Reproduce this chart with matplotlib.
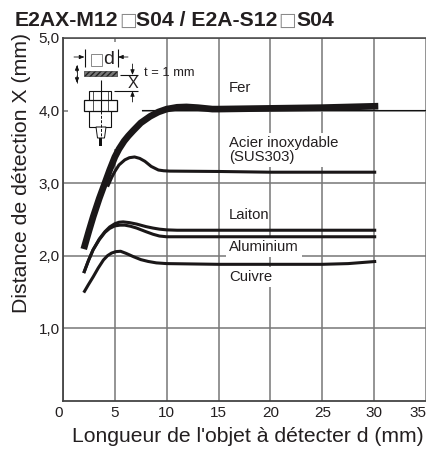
import matplotlib
matplotlib.use('Agg')
import matplotlib.pyplot as plt
import matplotlib.patches as patches
import numpy as np

plt.rcParams['font.family'] = ['Liberation Sans', 'DejaVu Sans']

TXT = '#231f20'
GRID = '#777777'

# values
fer_d = [2.0, 2.5, 2.92, 3.5, 4.04, 4.5, 5.0, 5.4, 5.9, 6.3, 6.75, 7.5, 8.4, 9.2, 10.0, 11.0, 11.9, 13.0, 14.4, 15.0, 20.0, 25.0, 30.4]
fer_x = [2.09, 2.34, 2.54, 2.79, 3.0, 3.18, 3.36, 3.47, 3.58, 3.65, 3.72, 3.83, 3.92, 3.98, 4.02, 4.045, 4.05, 4.04, 4.02, 4.02, 4.03, 4.04, 4.06]
sus_d = [4.3, 4.7, 5.0, 5.4, 5.96, 6.4, 6.9, 7.4, 7.9, 8.5, 9.2, 9.7, 10.3, 15.0, 20.0, 25.0, 30.2]
sus_x = [2.95, 3.08, 3.16, 3.25, 3.32, 3.35, 3.36, 3.34, 3.30, 3.23, 3.18, 3.17, 3.165, 3.16, 3.15, 3.15, 3.15]
lai_d = [2.0, 2.45, 2.9, 3.5, 4.04, 4.5, 5.0, 5.4, 5.8, 6.4, 7.1, 8.0, 8.67, 9.3, 10.0, 11.0, 15.0, 20.0, 25.0, 30.2]
lai_x = [1.76, 1.93, 2.08, 2.23, 2.33, 2.395, 2.44, 2.46, 2.465, 2.455, 2.435, 2.40, 2.38, 2.365, 2.355, 2.35, 2.35, 2.35, 2.35, 2.35]
alu_d = [2.0, 2.45, 2.9, 3.5, 4.04, 4.5, 5.0, 5.5, 5.96, 6.5, 7.1, 8.0, 8.67, 9.3, 10.0, 11.0, 15.0, 20.0, 25.0, 30.2]
alu_x = [1.76, 1.93, 2.08, 2.22, 2.32, 2.375, 2.41, 2.42, 2.42, 2.405, 2.38, 2.33, 2.295, 2.27, 2.26, 2.26, 2.26, 2.26, 2.26, 2.26]
cui_d = [2.0, 2.45, 2.92, 3.4, 3.9, 4.3, 4.68, 5.1, 5.55, 6.1, 6.8, 7.5, 8.2, 9.0, 10.0, 15.0, 20.0, 25.0, 27.5, 30.2]
cui_x = [1.49, 1.60, 1.71, 1.83, 1.94, 2.0, 2.035, 2.055, 2.06, 2.03, 1.985, 1.945, 1.92, 1.90, 1.89, 1.88, 1.88, 1.88, 1.89, 1.92]

xticks = [0, 5, 10, 15, 20, 25, 30, 35]
yticks = [1, 2, 3, 4, 5]
ylabels = ['1,0', '2,0', '3,0', '4,0', '5,0']

fig = plt.figure(figsize=(4.26, 4.5), dpi=100)
ax = fig.add_axes([63 / 426, (450 - 400.7) / 450, 363 / 426, 362.7 / 450])
# overlay in pixel coordinates for the sketch and the labels
px = fig.add_axes([0, 0, 1, 1], zorder=5)
px.set_xlim(0, 426)
px.set_ylim(450, 0)
px.axis('off')

ax.set_xlim(0, 363 / 10.4)
ax.set_ylim(0, 5)
ax.set_xticks(xticks)
ax.set_yticks(yticks)
ax.set_yticklabels(ylabels)
ax.tick_params(length=0, labelsize=11, labelcolor=TXT)
ax.tick_params(axis='x', pad=4)
ax.tick_params(axis='y', pad=2.5)
ax.get_xticklabels()[0].set_ha('right')
ax.get_xticklabels()[-1].set_ha('right')
ax.set_axisbelow(True)
ax.grid(color=GRID, lw=1.1)
ax.spines['right'].set_visible(False)
ax.spines['left'].set_linewidth(1.3)
ax.spines['bottom'].set_linewidth(1.3)
ax.spines['top'].set_linewidth(1.1)
for s in ['left', 'bottom', 'top']:
    ax.spines[s].set_color('#444444')

# white area behind the sketch
ax.add_patch(patches.Rectangle((68, 42), 74, 107, transform=px.transData, fc='white', ec='none', zorder=1.5))
ax.plot([142, 426], [110.3, 110.3], transform=px.transData, color='#111111', lw=0.8, zorder=1.7)

ax.plot(sus_d, sus_x, color='#1a1718', lw=2.2, solid_capstyle='butt', zorder=3)
ax.plot(lai_d, lai_x, color='#1a1718', lw=2.2, solid_capstyle='butt', zorder=3)
ax.plot(alu_d, alu_x, color='#1a1718', lw=2.2, solid_capstyle='butt', zorder=3)
ax.plot(cui_d, cui_x, color='#1a1718', lw=2.2, solid_capstyle='butt', zorder=3)
ax.plot(fer_d, fer_x, color='#1a1718', lw=4.8, solid_capstyle='butt', zorder=3.5)

box = dict(fc='white', ec='none', pad=2)
lab = dict(transform=px.transData, fontsize=10.7, color=TXT, ha='left', va='center', zorder=2)
ax.text(229, 88.5, 'Fer', **lab)
ax.text(229, 150, 'Acier inoxydable\n(SUS303)', bbox=box, linespacing=1.0, **lab)
ax.text(229, 215, 'Laiton', **lab)
ax.text(229, 247, 'Aluminium', bbox=box, **lab)
ax.text(229, 277, 'Cuivre', bbox=box, **lab)

# title in pieces, the squares are thin and grey in the reference
for x, s in [(15, 'E2AX-M12'), (136, 'S04 / E2A-S12'), (296, 'S04')]:
    px.text(x, 26.5, s, fontsize=15.2, fontweight='bold', color=TXT, ha='left', va='baseline')
for x in [128, 287]:
    px.text(x, 25.5, '\u25a1', fontsize=13.5, family='DejaVu Sans', color='#8a8a8a', ha='center', va='baseline')

fig.text(22 / 426, 1 - 173 / 450, 'Distance de détection X (mm)', fontsize=15.3, color=TXT, rotation=90,
         ha='center', va='center')
fig.text(72 / 426, 1 - 437 / 450, "Longueur de l'objet à détecter d (mm)", fontsize=15.2, color=TXT,
         ha='left', va='center')


def seg(xs, ys, lw=0.8, ls='-'):
    px.plot(xs, ys, color='#111111', lw=lw, ls=ls, solid_capstyle='butt')


def arrow(x0, y0, x1, y1):
    px.annotate('', xy=(x1, y1), xytext=(x0, y0),
                arrowprops=dict(arrowstyle='-|>,head_width=0.12,head_length=0.3', lw=0.6, color='#111111',
                                shrinkA=0, shrinkB=0))


# sensor sketch
seg([84.5, 84.5], [49, 67])
seg([118, 118], [49, 67])
arrow(74, 57, 84.5, 57)
arrow(128, 57, 118, 57)
px.add_patch(patches.Rectangle((91, 54), 11, 12, fc='white', ec='#888888', lw=0.7))
px.text(109, 60, 'd', fontsize=14, color=TXT, ha='center', va='center')
px.add_patch(patches.Rectangle((84, 71), 33, 4.5, fc='#777777', ec='#222222', lw=0.4, hatch='//////'))
arrow(77, 72, 77, 65)
arrow(77, 76, 77, 83)
seg([77, 77], [65, 83], lw=0.6)
seg([120, 138], [75, 75])
seg([114, 138], [91, 91])
arrow(132.5, 64, 132.5, 75)
arrow(132.5, 102, 132.5, 91)
px.text(132.5, 83, 'X', fontsize=11.5, color=TXT, ha='center', va='center')
px.text(144, 73, 't = 1 mm', fontsize=9.3, color=TXT, ha='left', va='center')
px.add_patch(patches.Rectangle((89, 91), 22, 36, fc='white', ec='#111111', lw=0.8))
px.add_patch(patches.Rectangle((84, 100), 33, 11, fc='white', ec='#111111', lw=0.9))
seg([93, 93], [91, 111], lw=0.5)
seg([108, 108], [91, 111], lw=0.5)
px.add_patch(patches.Polygon([(96, 127), (106, 127), (104.5, 138), (97.5, 138)], fc='white', ec='#111111', lw=0.7))
px.add_patch(patches.Rectangle((99, 138), 3, 8, fc='#111111', ec='none'))
seg([100.7, 100.7], [80, 111])
seg([100.7, 100.7], [111, 138], lw=0.7, ls=(0, (3, 1.5)))

fig.savefig('out.png', dpi=100)
